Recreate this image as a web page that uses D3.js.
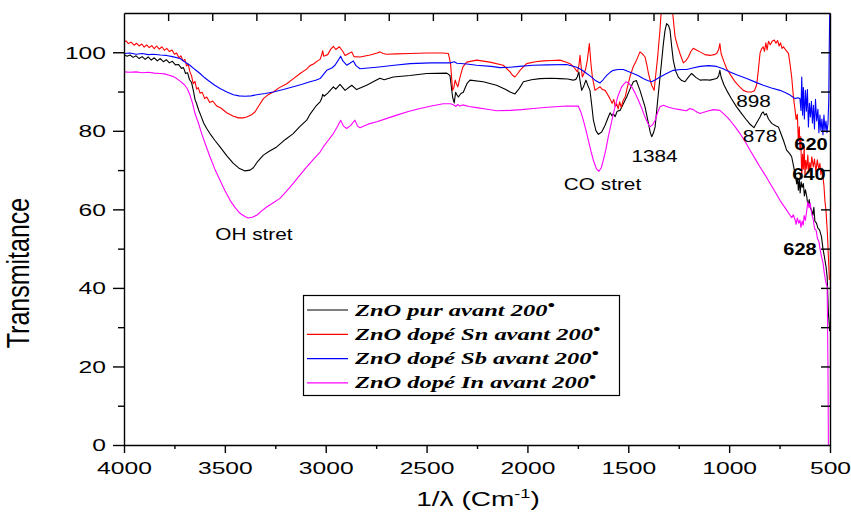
<!DOCTYPE html>
<html>
<head>
<meta charset="utf-8">
<script src="https://cdn.jsdelivr.net/npm/d3@7"></script>
<style>
  html, body { margin: 0; padding: 0; background: #fff; }
  svg { display: block; }
</style>
</head>
<body>
<svg id="chart" width="851" height="516"></svg>
<script>
// FTIR transmittance spectra, [wavenumber (cm-1), transmittance]
const pur = [
  [4000,99.4],[3985,99.0],[3970,99.3],[3955,98.7],[3940,99.1],[3925,98.4],[3910,98.9],[3895,98.2],[3880,98.8],[3865,98.0],
  [3850,98.6],[3835,97.8],[3820,98.4],[3805,97.6],[3790,98.1],[3775,97.3],[3760,97.7],[3745,96.8],[3730,96.9],[3715,95.9],
  [3705,96.1],[3695,94.6],[3685,94.8],[3675,93.0],[3665,92.3],[3655,90.0],[3648,88.0],[3640,86.9],[3630,85.3],[3620,84.0],
  [3605,82.0],[3590,80.6],[3574,79.3],[3550,77.6],[3524,75.9],[3490,73.6],[3458,71.7],[3430,70.5],[3400,69.8],[3375,70.0],
  [3359,70.6],[3340,72.0],[3309,73.8],[3280,74.8],[3243,75.9],[3200,77.8],[3161,79.3],[3130,81.0],[3094,82.7],[3078,84.2],
  [3050,86.2],[3028,87.4],[3020,88.2],[3015,89.3],[3008,88.8],[2990,89.6],[2962,91.2],[2950,90.6],[2929,91.8],[2904,90.3],
  [2871,91.6],[2847,90.5],[2797,91.6],[2760,92.6],[2731,93.4],[2710,93.0],[2665,93.7],[2582,94.1],[2499,94.6],[2400,94.7],
  [2384,94.1],[2371,88.6],[2363,87.1],[2356,89.8],[2350,89.2],[2342,88.6],[2330,89.5],[2318,89.8],[2300,92.0],[2285,92.9],
  [2219,92.5],[2153,91.6],[2110,90.6],[2086,89.9],[2062,89.4],[2040,90.8],[2020,92.5],[1980,93.0],[1938,93.3],[1880,93.4],
  [1839,93.3],[1800,93.2],[1773,92.9],[1760,93.1],[1753,93.7],[1745,95.0],[1740,93.0],[1731,90.3],[1720,91.5],[1710,92.9],
  [1700,91.5],[1690,90.3],[1680,86.0],[1673,82.7],[1660,80.0],[1648,79.1],[1632,79.7],[1615,81.4],[1599,83.5],[1590,84.6],
  [1580,83.8],[1574,84.4],[1565,83.6],[1555,85.0],[1541,85.2],[1525,86.8],[1508,88.6],[1490,90.8],[1475,92.5],[1460,92.8],
  [1442,90.3],[1417,86.1],[1400,81.9],[1392,79.8],[1384,78.5],[1375,79.5],[1367,81.0],[1351,89.5],[1338,96.0],[1326,102.2],
  [1318,105.5],[1310,107.3],[1300,106.8],[1293,105.6],[1285,101.5],[1277,98.0],[1265,95.2],[1252,93.7],[1235,92.8],[1219,92.5],
  [1200,93.8],[1186,94.6],[1165,93.6],[1144,92.9],[1120,93.0],[1095,92.9],[1062,93.3],[1052,94.0],[1046,95.4],[1040,93.7],
  [1025,91.6],[1012,90.3],[990,88.3],[963,86.1],[940,84.5],[913,82.7],[895,81.6],[877,80.8],[862,82.2],[847,83.5],
  [838,84.5],[831,84.8],[824,84.0],[816,84.4],[805,83.0],[789,81.9],[770,81.3],[756,81.0],[745,79.5],[731,77.6],
  [715,75.1],[700,74.2],[690,73.4],[680,70.8],[673,69.1],[665,66.5],[660,68.0],[657,64.9],[652,67.5],[648,64.2],
  [643,67.0],[638,65.6],[632,66.6],[627,63.4],[622,65.0],[615,63.2],[610,61.0],[603,62.5],[596,60.2],[591,59.8],
  [585,58.5],[580,60.5],[575,57.0],[567,56.5],[560,55.2],[552,54.8],[542,53.0],[535,50.0],[528,48.0],[520,45.5],
  [514,42.8],[508,33.6],[504,31.0],[502,29.0]
];

const dopeSn = [
  [4000,102.6],[3990,102.9],[3978,102.2],[3965,102.6],[3950,101.8],[3938,102.3],[3925,101.6],[3912,102.1],[3900,101.3],[3888,101.9],
  [3875,101.2],[3862,101.7],[3850,100.9],[3838,101.6],[3825,100.8],[3812,101.4],[3800,100.5],[3788,101.0],[3775,100.2],[3762,100.6],
  [3750,99.5],[3739,99.8],[3728,98.6],[3718,99.1],[3708,97.8],[3698,98.2],[3690,96.5],[3682,97.0],[3673,95.0],[3665,94.0],
  [3657,92.0],[3648,92.6],[3640,90.6],[3632,91.0],[3623,89.6],[3612,89.8],[3600,88.2],[3590,88.6],[3575,87.2],[3560,87.6],
  [3540,86.3],[3520,85.8],[3491,84.6],[3460,83.8],[3433,83.3],[3410,83.3],[3392,83.5],[3370,84.0],[3351,84.8],[3330,86.5],
  [3309,88.2],[3285,89.2],[3260,89.9],[3230,91.0],[3193,92.0],[3160,93.3],[3127,94.6],[3095,95.7],[3078,96.6],[3061,97.0],
  [3040,97.8],[3028,98.2],[3020,99.3],[3015,100.4],[3010,99.0],[2990,99.4],[2975,100.8],[2962,101.5],[2950,100.7],[2932,101.4],
  [2915,100.2],[2904,99.2],[2885,99.7],[2871,100.1],[2860,98.9],[2830,98.8],[2780,99.3],[2745,99.8],[2731,100.1],[2715,99.7],
  [2698,99.5],[2650,99.6],[2582,99.7],[2500,99.8],[2420,99.8],[2392,99.7],[2381,97.1],[2375,93.0],[2371,90.3],[2365,91.0],
  [2358,92.9],[2352,92.0],[2345,91.2],[2335,93.5],[2320,96.3],[2301,97.5],[2252,98.0],[2186,97.5],[2120,96.7],[2086,95.0],
  [2075,94.2],[2062,93.7],[2048,94.6],[2035,95.5],[2004,97.1],[1960,97.6],[1921,97.8],[1880,97.9],[1839,98.0],[1810,97.5],
  [1789,97.1],[1775,96.5],[1764,95.8],[1752,95.0],[1745,96.6],[1739,99.2],[1733,96.0],[1728,93.7],[1720,94.6],[1712,95.6],
  [1703,98.0],[1693,102.2],[1685,97.0],[1678,93.7],[1665,90.3],[1652,90.8],[1640,91.2],[1628,90.5],[1615,90.3],[1604,89.4],
  [1591,88.2],[1580,87.0],[1572,88.0],[1565,86.2],[1558,86.9],[1550,85.6],[1543,87.4],[1535,86.0],[1525,87.8],[1515,88.7],
  [1505,91.0],[1492,93.7],[1475,96.4],[1459,98.0],[1442,100.1],[1430,99.6],[1417,98.8],[1408,96.8],[1400,94.6],[1392,93.0],
  [1384,91.6],[1372,90.3],[1365,93.7],[1355,98.5],[1343,105.6],[1336,111.0],[1320,113.0],[1300,113.0],[1282,111.0],[1268,103.9],
  [1256,101.6],[1244,99.7],[1235,98.4],[1227,97.3],[1215,97.8],[1202,98.8],[1190,100.2],[1178,101.0],[1160,100.5],[1144,100.1],
  [1120,99.4],[1095,99.2],[1075,99.4],[1062,99.7],[1052,100.7],[1046,102.2],[1040,99.7],[1025,97.5],[1012,95.8],[990,94.0],
  [971,92.5],[950,91.3],[930,90.3],[910,89.9],[889,89.9],[875,90.2],[864,91.6],[856,95.0],[847,99.7],[840,100.8],
  [831,101.4],[825,100.2],[818,102.4],[812,100.6],[805,102.8],[796,101.9],[787,102.8],[776,103.1],[768,102.3],[760,103.0],
  [752,101.6],[745,102.4],[738,101.0],[731,101.4],[720,100.6],[706,99.7],[698,97.0],[690,93.7],[682,89.0],[673,85.2],
  [668,82.9],[662,84.2],[657,77.5],[652,81.0],[649,75.1],[645,78.5],[640,68.0],[636,74.0],[632,70.3],[628,76.0],
  [624,68.8],[620,72.5],[615,70.2],[610,73.8],[605,69.3],[600,71.9],[596,70.0],[590,73.4],[583,70.8],[577,72.8],
  [570,69.6],[563,72.6],[556,70.2],[550,71.7],[545,68.8],[540,70.5],[535,68.3],[530,66.0],[525,62.0],[520,59.8],
  [513,54.0],[508,48.0],[503,42.0]
];

const dopeSb = [
  [4000,99.7],[3970,99.8],[3940,99.5],[3910,99.7],[3880,99.4],[3855,99.5],[3820,99.3],[3790,99.2],[3760,98.9],[3722,98.4],
  [3700,97.6],[3673,96.7],[3648,95.6],[3623,94.6],[3600,93.5],[3574,92.5],[3550,91.6],[3524,90.8],[3490,89.9],[3458,89.2],
  [3430,88.9],[3400,88.8],[3370,88.9],[3342,89.2],[3300,89.5],[3260,89.9],[3210,90.5],[3161,91.2],[3120,91.8],[3078,92.5],
  [3050,92.9],[3028,93.3],[2995,95.4],[2970,96.0],[2954,96.7],[2940,97.8],[2926,99.0],[2915,97.8],[2896,96.7],[2880,97.2],
  [2863,97.8],[2850,96.6],[2830,95.8],[2790,96.0],[2747,96.2],[2660,96.7],[2582,97.1],[2480,97.3],[2384,97.3],[2362,97.6],
  [2350,97.2],[2300,97.0],[2252,96.7],[2180,96.4],[2136,96.1],[2086,96.2],[2040,96.4],[1971,96.7],[1900,96.8],[1806,96.9],
  [1756,96.2],[1730,95.5],[1706,94.6],[1685,93.8],[1665,92.9],[1640,92.2],[1625,93.0],[1607,94.1],[1590,94.9],[1574,95.4],
  [1550,95.6],[1525,95.6],[1500,95.1],[1475,94.6],[1450,94.0],[1426,93.3],[1405,92.8],[1384,92.5],[1365,93.0],[1343,93.7],
  [1310,94.6],[1277,95.4],[1240,95.6],[1211,95.6],[1180,96.0],[1144,96.4],[1100,96.6],[1062,96.4],[1030,95.8],[996,95.0],
  [960,94.2],[913,93.3],[870,92.4],[831,91.6],[790,90.9],[748,90.3],[720,89.7],[698,89.1],[685,88.6],[673,88.2],
  [660,88.4],[649,88.2],[644,85.2],[640,93.7],[636,84.0],[632,91.0],[627,83.0],[622,90.3],[617,85.0],[612,90.5],
  [607,81.0],[602,87.0],[597,83.5],[592,87.5],[587,82.0],[582,86.5],[577,80.5],[572,88.0],[566,82.5],[560,85.5],
  [555,79.5],[550,84.0],[545,80.0],[540,83.0],[535,79.0],[530,84.0],[525,80.0],[520,82.5],[515,79.5],[510,82.0],
  [506,88.0],[504,100.0],[502,108.0],[500,112.0]
];

const dopeIn = [
  [4000,95.0],[3970,94.9],[3940,95.0],[3910,94.8],[3880,94.9],[3850,94.7],[3822,94.6],[3800,94.5],[3772,94.1],[3755,93.8],
  [3739,93.3],[3720,92.6],[3698,91.6],[3685,90.6],[3673,89.1],[3660,87.0],[3648,84.4],[3630,81.8],[3615,79.3],[3595,76.4],
  [3574,73.4],[3550,70.3],[3524,67.4],[3500,64.8],[3474,62.3],[3450,60.5],[3425,59.0],[3400,58.2],[3384,57.8],[3365,58.0],
  [3342,58.5],[3320,59.5],[3293,60.6],[3260,61.7],[3227,62.8],[3195,64.6],[3161,66.6],[3128,68.7],[3094,70.8],[3060,72.8],
  [3028,74.6],[3012,75.9],[2990,77.4],[2962,79.3],[2940,81.3],[2926,82.7],[2912,81.2],[2896,80.6],[2876,81.4],[2855,82.7],
  [2842,81.2],[2830,80.8],[2790,81.7],[2747,82.3],[2700,83.1],[2648,84.0],[2590,84.9],[2533,85.7],[2470,86.4],[2417,86.9],
  [2380,86.9],[2365,86.6],[2355,86.2],[2345,86.7],[2336,86.3],[2320,86.6],[2290,86.2],[2252,85.9],[2200,85.5],[2153,85.1],
  [2086,85.2],[2030,85.4],[1971,85.7],[1900,86.0],[1806,86.3],[1748,86.3],[1735,84.8],[1723,82.7],[1710,80.2],[1698,77.6],
  [1685,74.8],[1673,72.5],[1658,70.3],[1645,69.7],[1634,70.6],[1624,72.5],[1612,75.0],[1599,78.5],[1582,82.5],[1566,86.1],
  [1550,89.0],[1533,91.2],[1512,92.5],[1498,92.2],[1483,91.2],[1466,89.6],[1450,87.8],[1432,85.6],[1417,83.5],[1404,82.0],
  [1392,81.0],[1380,81.5],[1367,82.7],[1355,84.6],[1343,86.1],[1326,86.5],[1300,86.0],[1277,85.7],[1245,85.4],[1211,85.1],
  [1195,85.7],[1178,85.4],[1160,84.8],[1144,84.4],[1110,85.0],[1078,85.4],[1046,85.2],[1020,84.0],[996,82.7],[970,81.0],
  [946,79.3],[920,77.2],[897,75.1],[870,72.8],[847,70.8],[820,68.6],[797,66.6],[770,64.3],[748,62.3],[720,60.2],
  [698,58.5],[690,57.9],[682,58.6],[673,57.3],[668,56.2],[662,57.8],[655,56.5],[649,57.3],[644,55.4],[638,57.0],
  [633,56.0],[628,58.4],[622,57.2],[615,59.8],[610,61.9],[604,60.4],[598,61.5],[591,59.0],[584,57.6],[576,55.0],
  [569,54.7],[562,52.5],[555,51.8],[548,49.5],[542,47.9],[535,46.5],[528,43.7],[521,41.5],[514,40.3],[510,20.0],
  [508,0.0]
];

const seriesNames = [
  "ZnO pur avant 200",
  "ZnO dopé Sn avant 200",
  "ZnO dopé Sb avant 200",
  "ZnO dopé In avant 200"
];
const seriesColors = ["#000000", "#ff0000", "#0000ff", "#ff00ff"];
const seriesData = [pur, dopeSn, dopeSb, dopeIn];

const xTicks = [4000, 3500, 3000, 2500, 2000, 1500, 1000, 500];
const xMinorTicks = [3750, 3250, 2750, 2250, 1750, 1250, 750];
const yTicks = [0, 20, 40, 60, 80, 100];
const yMinorTicks = [10, 30, 50, 70, 90];

// peak annotations: [wavenumber position, transmittance position, text, bold]
const peakLabels = [
  [3356, 52.2, "OH stret", false],
  [1628, 64.9, "CO stret", false],
  [1370, 72.1, "1384", false],
  [879, 86.0, "898", false],
  [847, 77.2, "878", false],
  [594, 75.1, "620", true],
  [604, 67.5, "640", true],
  [649, 48.4, "628", true]
];

const svg = d3.select("#chart");
const plotLeft = 124, plotRight = 830, plotTop = 13, plotBottom = 445;

const x = d3.scaleLinear().domain([4000, 500]).range([plotLeft, plotRight]);
const y = d3.scaleLinear().domain([0, 110]).range([plotBottom, plotTop]);

const fontSans = "Liberation Sans, Arial, Helvetica, sans-serif";
const fontSerif = "Liberation Serif, Times New Roman, serif";

// text with a horizontal stretch factor
function stretchedText(parent, px, py, str, opts) {
  const g = parent.append("g")
    .attr("transform", `translate(${px},${py}) scale(${opts.sx || 1},1)` + (opts.rotate ? ` rotate(${opts.rotate})` : ""));
  return g.append("text")
    .attr("x", 0).attr("y", 0)
    .attr("text-anchor", opts.anchor || "start")
    .attr("font-family", opts.family || fontSans)
    .attr("font-size", opts.size)
    .attr("font-weight", opts.weight || "normal")
    .attr("font-style", opts.style || "normal")
    .attr("fill", "#000")
    .text(str);
}

// clip for spectra
svg.append("defs").append("clipPath").attr("id", "plotClip")
  .append("rect").attr("x", plotLeft).attr("y", plotTop)
  .attr("width", plotRight - plotLeft).attr("height", plotBottom - plotTop);

const line = d3.line().x(d => x(d[0])).y(d => y(d[1]));

const plot = svg.append("g").attr("clip-path", "url(#plotClip)");
seriesData.forEach((data, i) => {
  plot.append("path")
    .datum(data)
    .attr("fill", "none")
    .attr("stroke", seriesColors[i])
    .attr("stroke-width", 1.1)
    .attr("stroke-linejoin", "round")
    .attr("d", line);
});

// axes
const tickLabelSx = 1.45;

const xAxis = svg.append("g").attr("transform", `translate(0,${plotBottom})`)
  .call(d3.axisBottom(x).tickValues(xTicks).tickSize(8).tickSizeOuter(0).tickFormat(d3.format("d")));
xAxis.selectAll("text")
  .attr("font-family", fontSans).attr("font-size", 17).attr("fill", "#000")
  .attr("y", 17).attr("dy", "0.71em")
  .attr("transform", `scale(${tickLabelSx},1)`);

svg.append("g").attr("transform", `translate(0,${plotBottom})`)
  .call(d3.axisBottom(x).tickValues(xMinorTicks).tickSize(4).tickSizeOuter(0).tickFormat(""))
  .select(".domain").remove();

const yAxis = svg.append("g").attr("transform", `translate(${plotLeft},0)`)
  .call(d3.axisLeft(y).tickValues(yTicks).tickSize(11).tickSizeOuter(0));
yAxis.selectAll("text")
  .attr("font-family", fontSans).attr("font-size", 17).attr("fill", "#000")
  .attr("x", -18 / tickLabelSx).attr("dy", "0.35em")
  .attr("transform", `scale(${tickLabelSx},1)`);

svg.append("g").attr("transform", `translate(${plotLeft},0)`)
  .call(d3.axisLeft(y).tickValues(yMinorTicks).tickSize(6).tickSizeOuter(0).tickFormat(""))
  .select(".domain").remove();

// top frame with inward ticks
const topTickValues = d3.range(1, 16).map(i => 4000 - i * 3500 / 16);
svg.append("g").attr("transform", `translate(0,${plotTop})`)
  .call(d3.axisBottom(x).tickValues(topTickValues).tickSize(8).tickSizeOuter(0).tickFormat(""));

// right frame with inward ticks
const rightTickValues = d3.range(10, 110, 10);
svg.append("g").attr("transform", `translate(${plotRight},0)`)
  .call(d3.axisLeft(y).tickValues(rightTickValues).tickSize(9).tickSizeOuter(0).tickFormat(""));

svg.selectAll(".domain, .tick line").attr("stroke", "#000").attr("stroke-width", 1.4);

// axis titles
stretchedText(svg, 29, 273, "Transmitance", { size: 25, sx: 1.28, anchor: "middle", rotate: -90 });

const xTitle = stretchedText(svg, 478, 506, "", { size: 20, sx: 1.4, anchor: "middle" });
xTitle.append("tspan").text("1/λ (Cm");
xTitle.append("tspan").attr("font-size", 13).attr("dy", -8).text("-1");
xTitle.append("tspan").attr("dy", 8).text(")");

// peak annotations
peakLabels.forEach(([wn, t, str, bold]) => {
  stretchedText(svg, x(wn), y(t), str, {
    size: 16, sx: bold ? 1.25 : 1.3, anchor: "middle", weight: bold ? "bold" : "normal"
  });
});

// legend
const legend = svg.append("g");
legend.append("rect")
  .attr("x", 303.5).attr("y", 295.5).attr("width", 316).attr("height", 100)
  .attr("fill", "#fff").attr("stroke", "#000").attr("stroke-width", 1.2);
seriesNames.forEach((name, i) => {
  const cy = 310 + i * 24.3;
  legend.append("line")
    .attr("x1", 307).attr("x2", 348).attr("y1", cy).attr("y2", cy)
    .attr("stroke", seriesColors[i]).attr("stroke-width", 1.2);
  const t = stretchedText(legend, 355, cy + 5.5, "", {
    size: 17.5, sx: 1.4, family: fontSerif, weight: "bold", style: "italic"
  });
  t.append("tspan").text(name);
  t.append("tspan").attr("font-size", 15).attr("dy", -6).text("•");
});
</script>
</body>
</html>
